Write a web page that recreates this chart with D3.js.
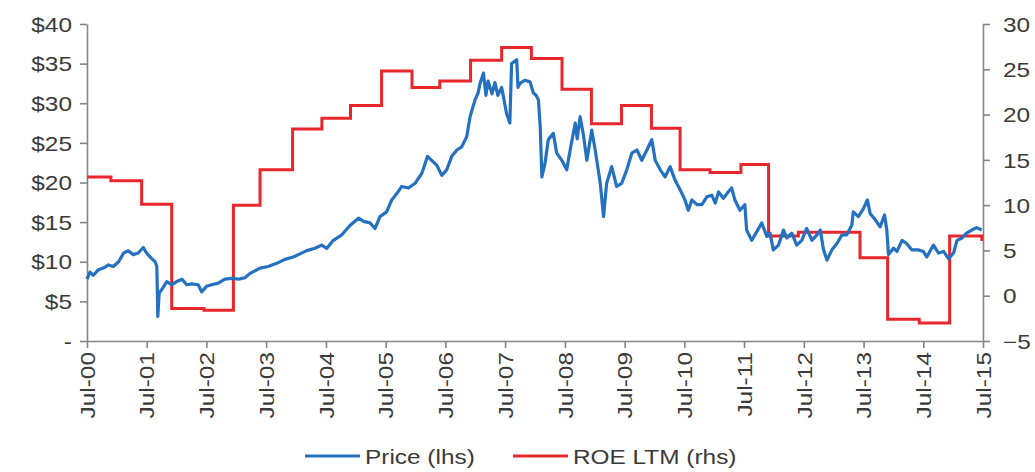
<!DOCTYPE html>
<html>
<head>
<meta charset="utf-8">
<script src="https://cdn.jsdelivr.net/npm/d3@7/dist/d3.min.js"></script>
<style>
  html, body { margin: 0; padding: 0; background: #ffffff; }
  svg { display: block; }
  text { font-family: "Liberation Sans", Arial, sans-serif; fill: #3a3a3a; }
</style>
</head>
<body>
<svg id="chart" width="1035" height="472"></svg>
<script>
// Share price (left axis, $)
const priceDates = [
  "2000-07-01","2000-07-19","2000-08-09","2000-09-09","2000-10-09","2000-11-09","2000-12-09",
  "2001-01-10","2001-02-10","2001-03-10","2001-04-10","2001-05-10","2001-06-10","2001-06-30",
  "2001-08-01","2001-08-21","2001-09-01","2001-09-07","2001-09-15","2001-10-05","2001-11-01",
  "2001-12-01","2002-01-01","2002-02-02","2002-03-02","2002-04-02","2002-05-12","2002-06-02",
  "2002-07-02","2002-08-02","2002-09-12","2002-10-22","2002-12-03","2003-01-13","2003-02-23",
  "2003-03-23","2003-05-24","2003-07-14","2003-09-04","2003-10-24","2003-12-14","2004-01-24",
  "2004-03-05","2004-04-25","2004-06-05","2004-07-06","2004-08-15","2004-10-06","2004-11-26",
  "2005-01-16","2005-02-16","2005-03-27","2005-04-27","2005-05-27","2005-07-07","2005-08-07",
  "2005-09-07","2005-10-07","2005-11-17","2005-12-28","2006-02-08","2006-03-14","2006-04-08",
  "2006-05-09","2006-06-09","2006-07-09","2006-08-09","2006-09-09","2006-10-09","2006-11-09",
  "2006-11-29","2006-12-29","2007-01-17","2007-01-29","2007-02-19","2007-03-06","2007-03-19",
  "2007-04-12","2007-04-30","2007-05-18","2007-06-10","2007-06-24","2007-07-10","2007-07-30",
  "2007-08-10","2007-09-10","2007-09-18","2007-09-30","2007-10-30","2007-12-01","2007-12-21",
  "2008-01-07","2008-01-21","2008-02-01","2008-02-11","2008-03-01","2008-03-21","2008-04-21",
  "2008-05-12","2008-06-12","2008-07-12","2008-08-02","2008-09-02","2008-09-14","2008-10-02",
  "2008-10-22","2008-11-12","2008-12-12","2009-01-02","2009-02-02","2009-02-22","2009-03-13",
  "2009-04-13","2009-05-13","2009-06-13","2009-07-14","2009-08-14","2009-09-14","2009-10-14",
  "2009-11-14","2009-12-14","2010-01-04","2010-02-04","2010-03-05","2010-04-05","2010-05-05",
  "2010-06-05","2010-07-05","2010-07-25","2010-08-16","2010-09-16","2010-10-16","2010-11-16",
  "2010-12-16","2011-01-06","2011-01-26","2011-02-25","2011-03-26","2011-04-16","2011-05-06",
  "2011-06-06","2011-07-06","2011-07-17","2011-08-17","2011-09-17","2011-10-17","2011-11-17",
  "2011-12-07","2011-12-27","2012-01-28","2012-02-27","2012-03-18","2012-04-18","2012-05-18",
  "2012-06-18","2012-07-18","2012-08-19","2012-09-19","2012-10-09","2012-10-29","2012-11-19",
  "2012-12-19","2013-01-19","2013-02-19","2013-03-20","2013-04-20","2013-04-29","2013-05-30",
  "2013-06-30","2013-07-24","2013-08-10","2013-09-10","2013-10-10","2013-11-06","2013-11-20",
  "2013-11-30","2013-12-31","2014-01-21","2014-02-21","2014-03-21","2014-04-21","2014-06-01",
  "2014-07-01","2014-07-22","2014-09-01","2014-10-02","2014-11-02","2014-12-02","2015-01-02",
  "2015-01-23","2015-02-23","2015-03-23","2015-04-23","2015-05-23","2015-06-23"
];
const priceValues = [
  7.8, 8.7, 8.3, 9.0, 9.2, 9.6, 9.4,
  10.0, 11.1, 11.4, 10.9, 11.1, 11.8, 11.1,
  10.4, 10.0, 9.4, 3.1, 6.0, 6.6, 7.5,
  7.1, 7.5, 7.8, 7.1, 7.2, 7.1, 6.2,
  6.9, 7.1, 7.3, 7.8, 7.9, 7.8, 8.0,
  8.5, 9.2, 9.4, 9.8, 10.3, 10.6, 11.0,
  11.4, 11.7, 12.1, 11.7, 12.7, 13.4, 14.6,
  15.5, 15.1, 14.9, 14.2, 15.7, 16.3, 17.8,
  18.6, 19.5, 19.3, 19.9, 21.2, 23.3, 22.8,
  22.2, 20.9, 21.6, 23.3, 24.1, 24.5, 25.8,
  28.3, 30.4, 31.3, 32.5, 33.8, 31.0, 32.8,
  31.2, 32.6, 31.0, 32.0, 30.5, 28.7, 27.5,
  35.0, 35.5, 32.0, 32.5, 32.9, 32.7, 31.3,
  31.0, 30.4, 27.0, 20.7, 22.4, 25.4, 26.2,
  23.7, 22.8, 21.6, 24.1, 27.5, 25.5, 28.3,
  26.0, 22.8, 26.6, 24.1, 19.9, 15.7, 19.9,
  22.0, 19.5, 19.9, 21.6, 23.7, 24.1, 22.8,
  24.1, 25.4, 22.8, 21.6, 20.7, 22.0, 20.3,
  19.1, 17.8, 16.5, 17.8, 17.2, 17.2, 18.2,
  18.4, 17.4, 18.8, 18.0, 18.8, 19.3, 17.8,
  16.5, 17.2, 14.0, 12.7, 13.8, 14.9, 13.2,
  13.6, 11.5, 12.1, 14.0, 13.0, 13.6, 12.1,
  12.7, 14.2, 12.7, 13.4, 14.0, 11.5, 10.2,
  11.5, 12.3, 13.4, 13.4, 14.6, 16.3, 15.7,
  16.7, 17.8, 16.1, 15.3, 14.4, 15.9, 14.0,
  10.9, 11.7, 11.3, 12.7, 12.3, 11.5, 11.5,
  11.3, 10.6, 12.1, 11.1, 11.3, 10.4, 11.1,
  12.7, 13.0, 13.6, 14.0, 14.3, 14.0
];

// Return on equity, last twelve months (right axis, %), stepped at each reporting date
const roeDates = [
  "2000-07-01","2000-11-24","2001-05-31","2001-12-01","2002-06-16","2002-12-13","2003-05-25",
  "2003-12-10","2004-06-06","2004-11-28","2005-06-06","2005-12-09","2006-05-28","2006-12-02",
  "2007-06-10","2007-12-09","2008-06-13","2008-12-10","2009-06-12","2009-12-12","2010-06-05",
  "2010-12-05","2011-06-12","2011-11-28","2012-05-28","2013-06-09","2013-11-25","2014-06-06",
  "2014-12-09","2015-06-24","2015-07-01"
];
const roeValues = [
  13.1, 12.7, 10.1, -1.4, -1.6, 10.0, 13.9,
  18.4, 19.6, 21.0, 24.8, 23.0, 23.7, 26.0,
  27.4, 26.2, 22.8, 19.0, 21.0, 18.5, 13.9,
  13.6, 14.5, 6.6, 7.0, 4.2, -2.6, -3.0,
  6.6, 6.2, 6.2
];

// Axis ticks
const xTickDates = ["2000-07-01","2001-07-01","2002-07-01","2003-07-01","2004-07-01","2005-07-01",
  "2006-07-01","2007-07-01","2008-07-01","2009-07-01","2010-07-01","2011-07-01","2012-07-01",
  "2013-07-01","2014-07-01","2015-07-01"];
const leftTicks = [0, 5, 10, 15, 20, 25, 30, 35, 40];
const rightTicks = [-5, 0, 5, 10, 15, 20, 25, 30];

// Legend entries
const seriesNames = ["Price (lhs)", "ROE LTM (rhs)"];
const seriesColors = ["#2471C1", "#E8262C"];

const parse = d3.utcParse("%Y-%m-%d");
const price = priceDates.map((d, i) => ({ date: parse(d), value: priceValues[i] }));
const roe = roeDates.map((d, i) => ({ date: parse(d), value: roeValues[i] }));

const plotLeft = 87, plotRight = 983, plotTop = 24, plotBottom = 341;
const STRETCH = 1.22;

const svg = d3.select("#chart");

const x = d3.scaleUtc()
  .domain([parse("2000-07-01"), parse("2015-07-01")])
  .range([plotLeft, plotRight]);
const yL = d3.scaleLinear().domain([0, 40]).range([plotBottom, plotTop]);
const yR = d3.scaleLinear().domain([-5, 30]).range([plotBottom, plotTop]);

const axisColor = "#858585";

function styleAxis(g) {
  g.selectAll(".domain").attr("stroke", axisColor).attr("stroke-width", 1.6);
  g.selectAll(".tick line").attr("stroke", axisColor).attr("stroke-width", 1.6);
  g.selectAll(".tick text").style("font-size", "20px").attr("fill", "#3a3a3a");
}

// Left axis
const gL = svg.append("g")
  .attr("transform", `translate(${plotLeft},0)`)
  .call(d3.axisLeft(yL).tickValues(leftTicks).tickSize(7).tickSizeOuter(0)
    .tickFormat(d => d === 0 ? "-" : "$" + d));
styleAxis(gL);
gL.selectAll(".tick text")
  .attr("x", 0).attr("dy", "0.36em")
  .attr("transform", `translate(-15,0) scale(${STRETCH},1)`);

// Right axis
const gR = svg.append("g")
  .attr("transform", `translate(${plotRight},0)`)
  .call(d3.axisRight(yR).tickValues(rightTicks).tickSize(7).tickSizeOuter(0));
styleAxis(gR);
gR.selectAll(".tick text")
  .attr("x", 0).attr("dy", "0.36em")
  .attr("transform", `translate(20,0) scale(${STRETCH},1)`);

// Bottom axis
const gX = svg.append("g")
  .attr("transform", `translate(0,${plotBottom})`)
  .call(d3.axisBottom(x).tickValues(xTickDates.map(parse)).tickSize(7).tickSizeOuter(0)
    .tickFormat(d3.utcFormat("%b-%y")));
styleAxis(gX);
gX.selectAll(".tick text")
  .attr("x", 0).attr("y", 0).attr("dy", "0.36em")
  .attr("text-anchor", "end")
  .attr("transform", `translate(0,11) rotate(-90) scale(${STRETCH},1)`);

// ROE line
svg.append("path")
  .datum(roe)
  .attr("fill", "none")
  .attr("stroke", seriesColors[1])
  .attr("stroke-width", 3)
  .attr("stroke-linejoin", "miter")
  .attr("d", d3.line().curve(d3.curveStepAfter).x(d => x(d.date)).y(d => yR(d.value)));

// Price line
svg.append("path")
  .datum(price)
  .attr("fill", "none")
  .attr("stroke", seriesColors[0])
  .attr("stroke-width", 3.2)
  .attr("stroke-linejoin", "round")
  .attr("d", d3.line().x(d => x(d.date)).y(d => yL(d.value)));

// Legend
const legendItems = [
  { name: seriesNames[0], color: seriesColors[0], x0: 305 },
  { name: seriesNames[1], color: seriesColors[1], x0: 513 }
];
const lg = svg.append("g");
legendItems.forEach(it => {
  lg.append("line")
    .attr("x1", it.x0).attr("x2", it.x0 + 55)
    .attr("y1", 456).attr("y2", 456)
    .attr("stroke", it.color).attr("stroke-width", 3);
  lg.append("text")
    .attr("transform", `translate(${it.x0 + 60},464) scale(${STRETCH},1)`)
    .style("font-size", "20px")
    .text(it.name);
});
</script>
</body>
</html>
